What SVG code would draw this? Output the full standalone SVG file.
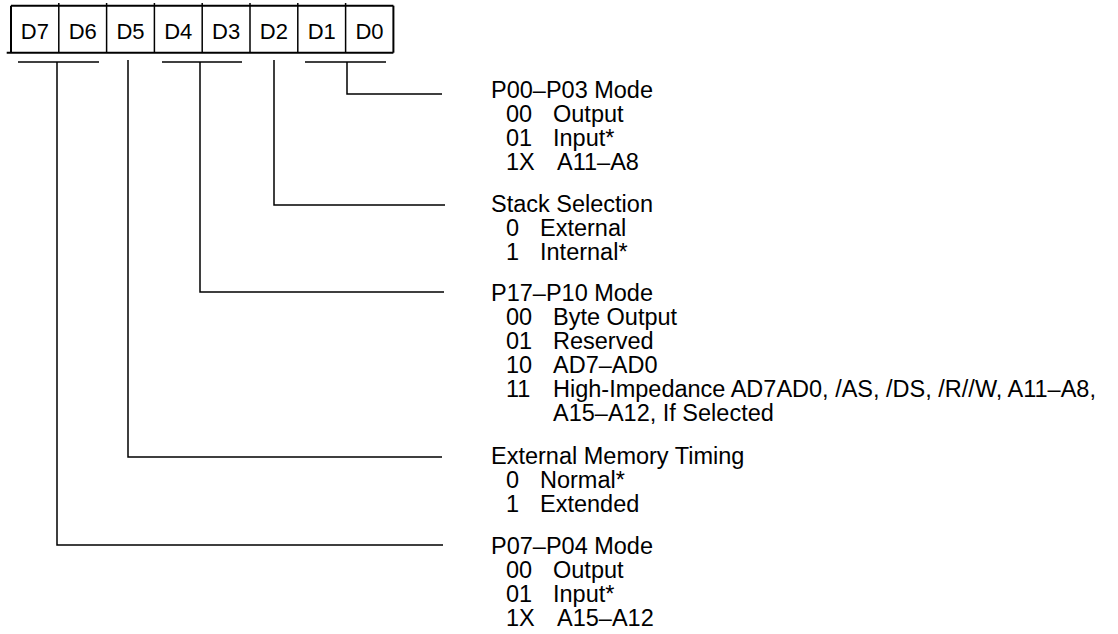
<svg xmlns="http://www.w3.org/2000/svg" width="1118" height="634" viewBox="0 0 1118 634">
<style>
  text { font-family: "Liberation Sans", Arial, sans-serif; fill: #000; }
  .cell { font-size: 22px; text-anchor: middle; }
  .t { font-size: 23.5px; }
  .box { fill: none; stroke: #000; stroke-width: 2; }
  .div { stroke: #000; stroke-width: 1.5; }
  .con { fill: none; stroke: #000; stroke-width: 1.5; }
</style>
<rect width="1118" height="634" fill="#fff"/>
<g id="register">
  <line class="box" x1="11" y1="5.7" x2="393.4" y2="5.7"/>
  <line class="box" x1="6.7" y1="52.7" x2="393.4" y2="52.7"/>
  <line class="box" x1="11" y1="5.7" x2="11" y2="52.7"/>
  <line class="box" x1="393.4" y1="5.7" x2="393.4" y2="52.7"/>
  <line class="div" x1="58.8" y1="3" x2="58.8" y2="52.7"/>
  <line class="div" x1="106.6" y1="3" x2="106.6" y2="52.7"/>
  <line class="div" x1="154.4" y1="3" x2="154.4" y2="52.7"/>
  <line class="div" x1="202.2" y1="3" x2="202.2" y2="52.7"/>
  <line class="div" x1="250" y1="3" x2="250" y2="52.7"/>
  <line class="div" x1="297.8" y1="3" x2="297.8" y2="52.7"/>
  <line class="div" x1="345.6" y1="3" x2="345.6" y2="52.7"/>
  <text class="cell" x="34.9" y="39">D7</text>
  <text class="cell" x="82.7" y="39">D6</text>
  <text class="cell" x="130.5" y="39">D5</text>
  <text class="cell" x="178.3" y="39">D4</text>
  <text class="cell" x="226.1" y="39">D3</text>
  <text class="cell" x="273.9" y="39">D2</text>
  <text class="cell" x="321.7" y="39">D1</text>
  <text class="cell" x="369.5" y="39">D0</text>
</g>
<g id="connectors">
  <line class="con" x1="305" y1="62" x2="386" y2="62"/>
  <polyline class="con" points="347,62 347,94 442,94"/>
  <polyline class="con" points="274,60 274,205 445,205"/>
  <line class="con" x1="162" y1="62" x2="242" y2="62"/>
  <polyline class="con" points="200,62 200,292 444,292"/>
  <polyline class="con" points="128,60 128,457 442,457"/>
  <line class="con" x1="18" y1="62" x2="99" y2="62"/>
  <polyline class="con" points="57,62 57,545 443,545"/>
</g>
<g id="p00-p03">
  <text class="t" x="491" y="98">P00–P03 Mode</text>
  <text class="t" x="506" y="122">00</text><text class="t" x="553" y="122">Output</text>
  <text class="t" x="506" y="146">01</text><text class="t" x="553" y="146">Input*</text>
  <text class="t" x="506" y="170">1X</text><text class="t" x="557" y="170">A11–A8</text>
</g>
<g id="stack">
  <text class="t" x="491" y="212">Stack Selection</text>
  <text class="t" x="506" y="236">0</text><text class="t" x="540" y="236">External</text>
  <text class="t" x="506" y="260">1</text><text class="t" x="540" y="260">Internal*</text>
</g>
<g id="p17-p10">
  <text class="t" x="491" y="301">P17–P10 Mode</text>
  <text class="t" x="506" y="325">00</text><text class="t" x="553" y="325">Byte Output</text>
  <text class="t" x="506" y="349">01</text><text class="t" x="553" y="349">Reserved</text>
  <text class="t" x="506" y="373">10</text><text class="t" x="553" y="373">AD7–AD0</text>
  <text class="t" x="506" y="397">11</text><text class="t" x="553" y="397">High-Impedance AD7AD0, /AS, /DS, /R//W, A11–A8,</text>
  <text class="t" x="553" y="421">A15–A12, If Selected</text>
</g>
<g id="ext-mem">
  <text class="t" x="491" y="464">External Memory Timing</text>
  <text class="t" x="506" y="488">0</text><text class="t" x="540" y="488">Normal*</text>
  <text class="t" x="506" y="512">1</text><text class="t" x="540" y="512">Extended</text>
</g>
<g id="p07-p04">
  <text class="t" x="491" y="554">P07–P04 Mode</text>
  <text class="t" x="506" y="578">00</text><text class="t" x="553" y="578">Output</text>
  <text class="t" x="506" y="602">01</text><text class="t" x="553" y="602">Input*</text>
  <text class="t" x="506" y="626">1X</text><text class="t" x="557" y="626">A15–A12</text>
</g>
</svg>
